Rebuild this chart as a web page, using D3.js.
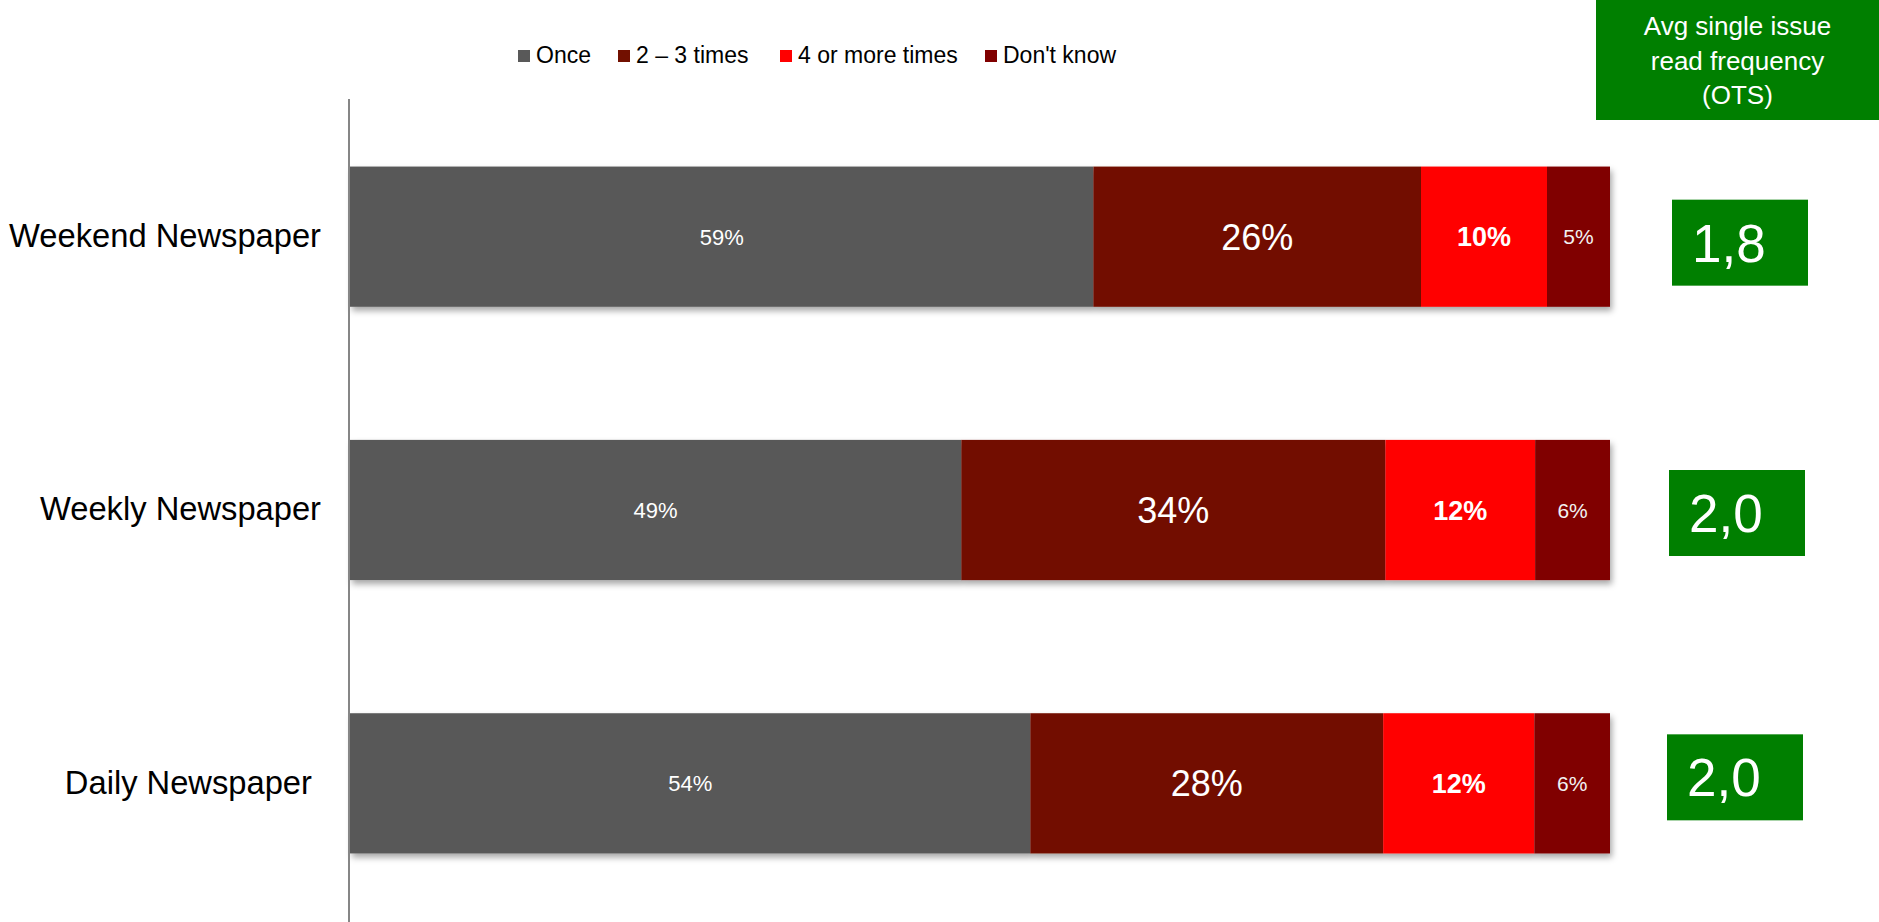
<!DOCTYPE html>
<html>
<head>
<meta charset="utf-8">
<script src="https://cdn.jsdelivr.net/npm/d3@7"></script>
<style>
  html, body { margin: 0; padding: 0; background: #ffffff; }
  svg { display: block; font-family: "Liberation Sans", Arial, sans-serif; }
</style>
</head>
<body>
<svg id="chart" width="1879" height="922"></svg>
<script>
// Reading frequency per newspaper type (share of readers, %)
const categories = ["Weekend Newspaper", "Weekly Newspaper", "Daily Newspaper "];
const seriesNames = ["Once", "2 \u2013 3 times", "4 or more times", "Don't know"];
const once = [59, 49, 54];
const twoToThree = [26, 34, 28];
const fourOrMore = [10, 12, 12];
const dontKnow = [5, 6, 6];
// Average opportunities to see per issue
const avgOTS = ["1,8", "2,0", "2,0"];
const headerLines = ["Avg single issue", "read frequency", "(OTS)"];

const seriesValues = [once, twoToThree, fourOrMore, dontKnow];
const colors = ["#595959", "#721000", "#ff0000", "#800000"];
const labelStyle = [
  { size: 22, weight: "normal", fill: "#ffffff" },
  { size: 36, weight: "normal", fill: "#ffffff" },
  { size: 27, weight: "bold", fill: "#ffffff" },
  { size: 21, weight: "normal", fill: "#f2f2f2" }
];
const green = "#007f00";
// Small hand placement of the OTS boxes relative to each bar (dx, dy)
const otsBoxNudge = [[3, 6], [0, 3], [-2, -6]];
const legendX = [518, 618, 780, 985];

const svg = d3.select("#chart");

// Drop shadow under the bars
const defs = svg.append("defs");
const f = defs.append("filter").attr("id", "shadow")
  .attr("x", "-5%").attr("y", "-10%").attr("width", "110%").attr("height", "130%");
f.append("feDropShadow").attr("dx", 2).attr("dy", 4).attr("stdDeviation", 3)
  .attr("flood-color", "#000").attr("flood-opacity", 0.35);

// Rows: one per category, each stacked to 100 %
const rows = categories.map((c, i) => {
  const obj = { category: c };
  seriesNames.forEach((s, j) => obj[s] = seriesValues[j][i]);
  return obj;
});
const stacked = d3.stack().keys(seriesNames).offset(d3.stackOffsetExpand)(rows);

const x = d3.scaleLinear().domain([0, 1]).range([350, 1610]);
const y = d3.scaleBand().domain(categories).range([100, 920])
  .paddingInner(0.487).paddingOuter(0.2435);

// Bars
const barGroup = svg.append("g").attr("filter", "url(#shadow)");
stacked.forEach((layer, j) => {
  barGroup.append("g").attr("fill", colors[j])
    .selectAll("rect").data(layer).join("rect")
    .attr("x", d => x(d[0]))
    .attr("y", d => y(d.data.category))
    .attr("width", d => x(d[1]) - x(d[0]))
    .attr("height", y.bandwidth());
});

// Segment labels
stacked.forEach((layer, j) => {
  const st = labelStyle[j];
  svg.append("g").selectAll("text").data(layer).join("text")
    .attr("x", d => (x(d[0]) + x(d[1])) / 2)
    .attr("y", d => y(d.data.category) + y.bandwidth() / 2)
    .attr("dy", "0.36em")
    .attr("text-anchor", "middle")
    .attr("font-size", st.size)
    .attr("font-weight", st.weight)
    .attr("fill", st.fill)
    .text(d => d.data[layer.key] + "%");
});

// Category axis
const axis = svg.append("g").attr("transform", "translate(349,0)")
  .call(d3.axisLeft(y).tickSize(0).tickPadding(28));
axis.select(".domain").remove();
axis.selectAll("text")
  .attr("font-size", 32.7)
  .attr("font-family", "Liberation Sans, Arial, sans-serif")
  .attr("fill", "#000")
  .style("white-space", "pre");
svg.append("line")
  .attr("x1", 349).attr("x2", 349).attr("y1", 99).attr("y2", 922)
  .attr("stroke", "#868686").attr("stroke-width", 2);

// Legend
const legend = svg.append("g").selectAll("g").data(seriesNames).join("g")
  .attr("transform", (d, i) => `translate(${legendX[i]},0)`);
legend.append("rect").attr("x", 0).attr("y", 50).attr("width", 12).attr("height", 12)
  .attr("fill", (d, i) => colors[i]);
legend.append("text").attr("x", 18).attr("y", 63)
  .attr("font-size", 23).attr("fill", "#000").text(d => d);

// Header box for the OTS column
svg.append("rect").attr("x", 1596).attr("y", 0).attr("width", 283).attr("height", 120)
  .attr("fill", green);
svg.append("g").selectAll("text").data(headerLines).join("text")
  .attr("x", 1737.5).attr("y", (d, i) => 35 + i * 34.5)
  .attr("text-anchor", "middle").attr("font-size", 26).attr("fill", "#fff")
  .text(d => d);

// OTS value boxes
const ots = svg.append("g").selectAll("g").data(categories).join("g")
  .attr("transform", (d, i) =>
    `translate(${1669 + otsBoxNudge[i][0]},${y(d) + y.bandwidth() / 2 - 43 + otsBoxNudge[i][1]})`);
ots.append("rect").attr("width", 136).attr("height", 86).attr("fill", green);
ots.append("text").attr("x", 20).attr("y", 43).attr("dy", "0.36em")
  .attr("font-size", 53).attr("fill", "#fff")
  .text((d, i) => avgOTS[i]);
</script>
</body>
</html>
